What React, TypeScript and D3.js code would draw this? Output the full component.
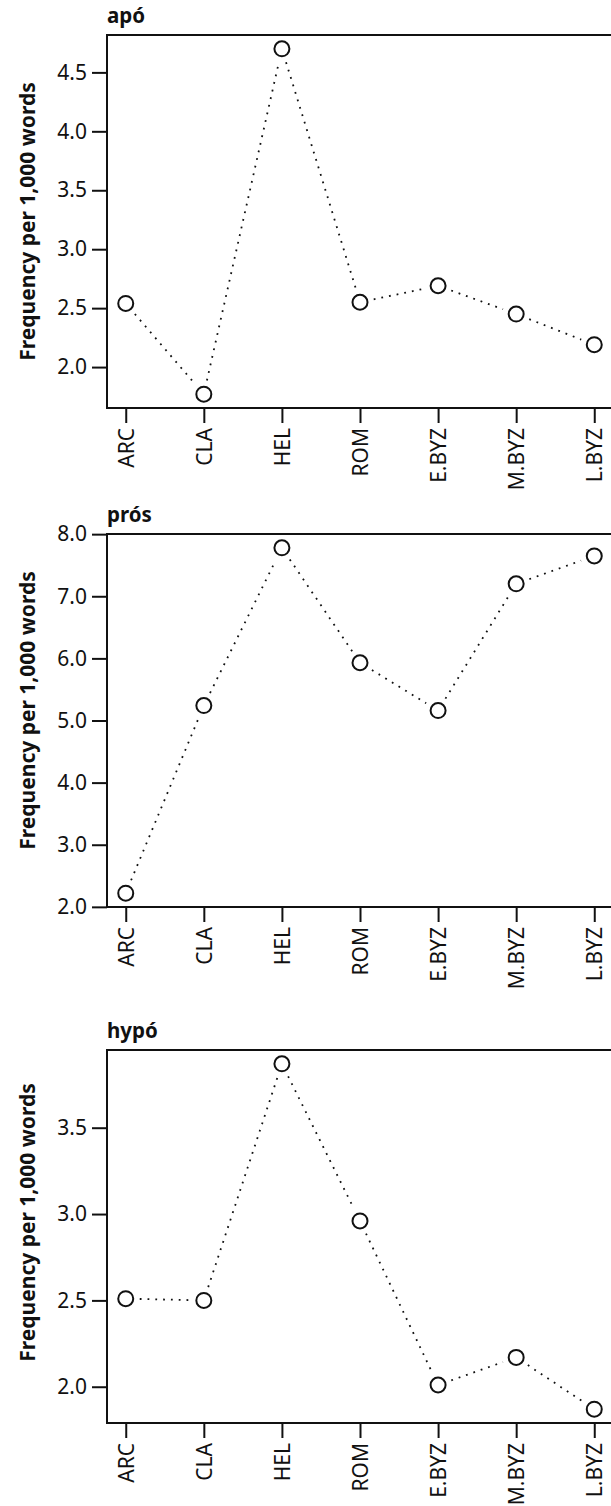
import React, { useRef, useEffect } from 'react';
import * as d3 from 'd3';

const periods = ['ARC', 'CLA', 'HEL', 'ROM', 'E.BYZ', 'M.BYZ', 'L.BYZ'];
const apoValues = [2.54, 1.77, 4.70, 2.55, 2.69, 2.45, 2.19];
const prosValues = [2.22, 5.24, 7.78, 5.93, 5.16, 7.20, 7.65];
const hypoValues = [2.51, 2.50, 3.87, 2.96, 2.01, 2.17, 1.87];
const titles = ['apó', 'prós', 'hypó'];
const yLabel = 'Frequency per 1,000 words';

// layout
const W = 611;
const H = 1506;
const plotLeft = 107;
const plotRight = 613;
const plotH = 373;
const panelTops = [35, 534, 1050];
const labelShift = [0, -10, -14];
const font = '"Noto Sans", "Open Sans", sans-serif';

const App = () => {
  const ref = useRef<SVGSVGElement>(null);

  useEffect(() => {
    const svg = d3.select(ref.current);
    svg.selectAll('*').remove();

    const series = [apoValues, prosValues, hypoValues];

    // R-style 4% padding on both axes
    const x = d3.scalePoint<string>()
      .domain(periods)
      .range([plotLeft, plotRight])
      .padding(0.24);

    series.forEach((values, i) => {
      const top = panelTops[i];
      const bottom = top + plotH;
      const [lo, hi] = d3.extent(values) as [number, number];
      const pad = (hi - lo) * 0.04;
      const y = d3.scaleLinear().domain([lo - pad, hi + pad]).range([bottom, top]);

      const g = svg.append('g');

      // box
      g.append('rect')
        .attr('x', plotLeft)
        .attr('y', top)
        .attr('width', plotRight - plotLeft)
        .attr('height', plotH)
        .attr('fill', 'none')
        .attr('stroke', '#111')
        .attr('stroke-width', 2);

      // title
      g.append('text')
        .attr('x', plotLeft)
        .attr('y', top - 12)
        .attr('font-family', font)
        .attr('font-weight', 'bold')
        .attr('font-size', 20.5)
        .attr('fill', '#111')
        .text(titles[i]);

      // y axis
      const yAxis = g.append('g')
        .attr('transform', `translate(${plotLeft},0)`)
        .call(d3.axisLeft(y).ticks(5).tickFormat(d3.format('.1f')).tickSize(15).tickPadding(5));
      yAxis.select('.domain').remove();
      yAxis.selectAll('line').attr('stroke', '#111').attr('stroke-width', 2);
      yAxis.selectAll('text')
        .attr('font-family', font)
        .attr('font-size', 21)
        .attr('fill', '#111');

      // x axis
      const xAxis = g.append('g')
        .attr('transform', `translate(0,${bottom})`)
        .call(d3.axisBottom(x).tickSize(15).tickPadding(6));
      xAxis.select('.domain').remove();
      xAxis.selectAll('line').attr('stroke', '#111').attr('stroke-width', 2);
      xAxis.selectAll('text')
        .attr('font-family', font)
        .attr('font-size', 21)
        .attr('fill', '#111')
        .attr('transform', 'rotate(-90)')
        .attr('text-anchor', 'end')
        .attr('x', -20)
        .attr('y', 0)
        .attr('dy', '0.35em');

      // y label
      g.append('text')
        .attr('transform', `translate(35,${(top + bottom) / 2 + labelShift[i]}) rotate(-90)`)
        .attr('text-anchor', 'middle')
        .attr('font-family', font)
        .attr('font-weight', 'bold')
        .attr('font-size', 21)
        .attr('fill', '#111')
        .text(yLabel);

      // dotted segments with gaps around points (type = "b")
      const pts = values.map((v, k) => [x(periods[k]) as number, y(v)]);
      const gap = 14;
      d3.pairs(pts).forEach(([a, b]) => {
        const dx = b[0] - a[0];
        const dy = b[1] - a[1];
        const len = Math.hypot(dx, dy);
        if (len <= gap * 2) return;
        const ux = dx / len;
        const uy = dy / len;
        g.append('line')
          .attr('x1', a[0] + ux * gap)
          .attr('y1', a[1] + uy * gap)
          .attr('x2', b[0] - ux * gap)
          .attr('y2', b[1] - uy * gap)
          .attr('stroke', '#111')
          .attr('stroke-width', 1.8)
          .attr('stroke-dasharray', '1.8 6');
      });

      g.selectAll('circle.pt')
        .data(values)
        .join('circle')
        .attr('class', 'pt')
        .attr('cx', (_, k) => x(periods[k]) as number)
        .attr('cy', d => y(d))
        .attr('r', 7.5)
        .attr('fill', 'none')
        .attr('stroke', '#111')
        .attr('stroke-width', 2);
    });
  }, []);

  return (
    <div style={{ position: 'absolute', left: 0, top: 0, width: W, height: H, overflow: 'hidden', background: '#fff' }}>
      <svg ref={ref} width={W} height={H} style={{ display: 'block' }}></svg>
    </div>
  );
};

export default App;
